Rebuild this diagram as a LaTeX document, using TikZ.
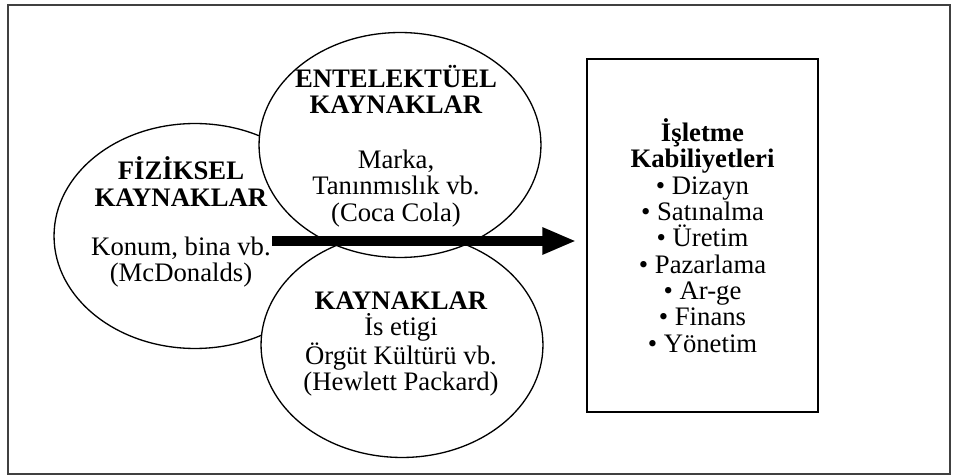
\documentclass[tikz,border=0pt]{standalone}
\usepackage{fontspec}
\setmainfont{Liberation Serif}
\usepackage{tikz}
\usetikzlibrary{arrows.meta,shapes.geometric}
\usetikzlibrary{positioning,calc}

\tikzset{
    kaynak/.style={ellipse,draw,fill=white,line width=0.75pt,minimum width=5.64cm,minimum height=4.5cm,inner sep=0pt},
    yazi/.style={align=center,inner sep=0pt,font=\fontsize{15.2}{15}\selectfont},
}

\begin{document}
\begin{tikzpicture}[x=0.02cm,y=-0.02cm]
        \useasboundingbox (0,0) rectangle (958,476);
        \draw[black!75,line width=1.1pt] (8,5) rectangle (950,474);

        % kaynak elipsleri (soldan, alttan, ustten)
        \foreach \ad/\yer in {fiz/{(195,236)}, ins/{(402,345)}, ent/{(400,145)}}
            {
                \node[kaynak] (\ad) at \yer {};
            }

        \node[yazi] (fiztxt) at ($(fiz.center)+(-14,-14)$) {\textbf{FİZİKSEL}\\\textbf{KAYNAKLAR}\\[13pt]Konum, bina vb.\\(McDonalds)};
        \node[yazi] (enttxt) at ($(ent.center)+(-4,1)$) {\textbf{ENTELEKTÜEL}\\\textbf{KAYNAKLAR}\\[16pt]Marka,\\Tanınmıslık vb.\\(Coca Cola)};
        \node[yazi] (instxt) at ($(ins.center)+(-1,-1)$) {\textbf{KAYNAKLAR}\\İs etigi\\Örgüt Kültürü vb.\\(Hewlett Packard)};

        \node[yazi,draw,line width=0.8pt,minimum width=4.62cm,minimum height=7.06cm] (kabiliyet) at (702.5,235.5)
            {\textbf{İşletme}\\\textbf{Kabiliyetleri}\\• Dizayn\\• Satınalma\\• Üretim\\• Pazarlama\\• Ar-ge\\• Finans\\• Yönetim};

        \coordinate (okbas) at (272,241);
        \coordinate (okuc) at ($(kabiliyet.west |- okbas)+(-10,0)$);
        \draw[line width=0.2cm,-{Triangle[length=0.68cm,width=0.5cm]}] (okbas) -- (okuc);
    \end{tikzpicture}
\end{document}
